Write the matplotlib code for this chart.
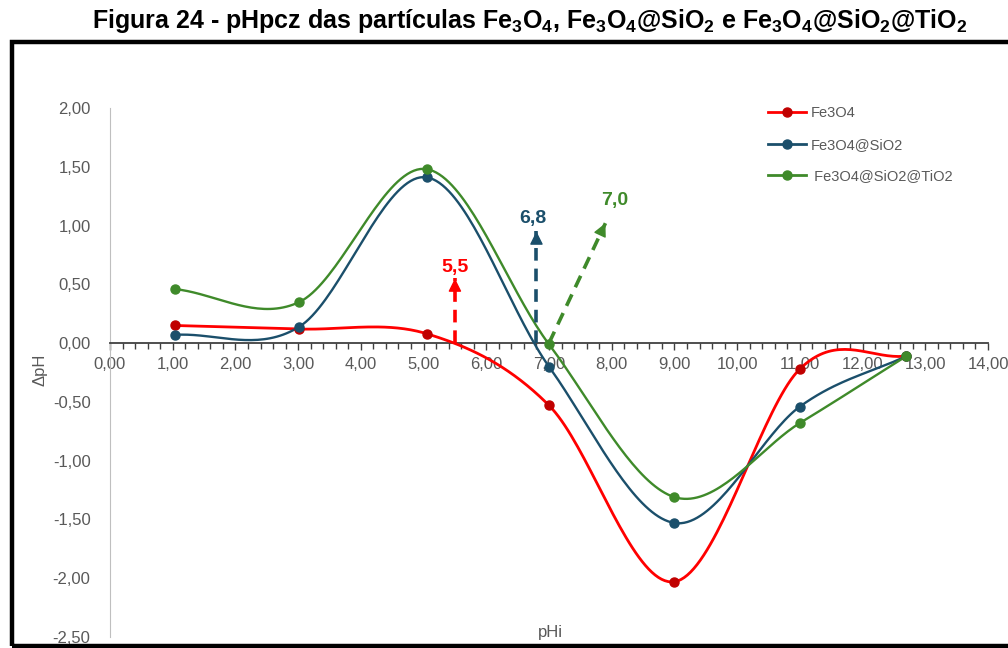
import numpy as np
import matplotlib
matplotlib.use('Agg')
import matplotlib.pyplot as plt
from matplotlib.ticker import MultipleLocator, FuncFormatter
from matplotlib.patches import Rectangle

plt.rcParams['font.family'] = ['Liberation Sans Narrow', 'Liberation Sans', 'DejaVu Sans']
plt.rcParams['mathtext.fontset'] = 'custom'
plt.rcParams['mathtext.rm'] = 'Liberation Sans:bold'
plt.rcParams['mathtext.default'] = 'rm'

# pH inicial x delta pH
phi_fe3o4 = [1.03, 3.02, 5.05, 7.0, 9.0, 11.0, 12.7]
dph_fe3o4 = [0.15, 0.12, 0.08, -0.53, -2.03, -0.22, -0.11]

phi_sio2 = [1.03, 3.02, 5.05, 7.0, 9.0, 11.0, 12.7]
dph_sio2 = [0.07, 0.14, 1.41, -0.20, -1.53, -0.54, -0.11]

phi_tio2 = [1.03, 3.02, 5.05, 7.0, 9.0, 11.0, 12.7]
dph_tio2 = [0.46, 0.35, 1.48, -0.01, -1.31, -0.68, -0.11]

# pHpcz de cada material (seta: inicio, fim)
pcz_labels = ['5,5', '6,8', '7,0']
pcz_start = [(5.5, 0.0), (6.8, 0.0), (7.0, 0.0)]
pcz_end = [(5.5, 0.55), (6.8, 0.95), (7.9, 1.02)]
pcz_text = [(5.5, 0.64), (6.75, 1.06), (8.05, 1.21)]

red = '#FF0000'
red_mk = '#C00000'
blue = '#1B4F6B'
green = '#3F8A2A'
grey = '#595959'


def smooth(x, y, n=40):
    # curva suavizada tipo Catmull-Rom passando pelos pontos
    p = np.column_stack([x, y]).astype(float)
    p = np.vstack([2 * p[0] - p[1], p, 2 * p[-1] - p[-2]])
    out = []
    for i in range(1, len(p) - 2):
        p0, p1, p2, p3 = p[i - 1], p[i], p[i + 1], p[i + 2]
        t = np.linspace(0, 1, n)[:, None]
        c = 0.5 * ((2 * p1) + (-p0 + p2) * t + (2 * p0 - 5 * p1 + 4 * p2 - p3) * t ** 2
                   + (-p0 + 3 * p1 - 3 * p2 + p3) * t ** 3)
        out.append(c if i == 1 else c[1:])
    c = np.vstack(out)
    return c[:, 0], c[:, 1]


fig = plt.figure(figsize=(10.08, 6.48), dpi=100)
ax = fig.add_axes([110 / 1008, 1 - 637 / 648, 878 / 1008, 529 / 648])

series = [
    (phi_fe3o4, dph_fe3o4, red, red_mk, 'Fe3O4'),
    (phi_sio2, dph_sio2, blue, blue, 'Fe3O4@SiO2'),
    (phi_tio2, dph_tio2, green, green, ' Fe3O4@SiO2@TiO2'),
]
for x, y, c, mc, lab in series:
    sx, sy = smooth(x, y)
    ax.plot(sx, sy, color=c, lw=2.0 if c == red else 1.7, zorder=3)
    ax.plot(x, y, 'o', color=mc, ms=6.5, zorder=4)
    ax.plot([], [], color=c, lw=2, marker='o', ms=6.5, mfc=mc, mec=mc, label=lab)

arrow_cols = [red, blue, green]
for lab, s, e, tp, c in zip(pcz_labels, pcz_start, pcz_end, pcz_text, arrow_cols):
    ax.plot([s[0], e[0]], [s[1], e[1]], color=c, lw=2.6, ls=(0, (3.5, 2.2)), zorder=5)
    d = np.array(e) - np.array(s)
    back = np.array(e) - d / np.hypot(d[0] / 14, d[1] / 4.5) * 0.004
    ax.annotate('', xy=e, xytext=back,
                arrowprops=dict(arrowstyle='-|>,head_length=0.8,head_width=0.4',
                                color=c, lw=1, shrinkA=0, shrinkB=0), zorder=5)
    ax.text(tp[0], tp[1], lab, color=c, fontsize=14, fontweight='bold',
            family=['Liberation Sans', 'DejaVu Sans'], ha='center', va='center', zorder=6)

ax.set_xlim(0, 14)
ax.set_ylim(-2.5, 2.0)
ax.xaxis.set_major_locator(MultipleLocator(1))
ax.xaxis.set_minor_locator(MultipleLocator(0.2))
ax.yaxis.set_major_locator(MultipleLocator(0.5))
fmt = FuncFormatter(lambda v, pos: f'{v:.2f}'.replace('.', ','))
ax.xaxis.set_major_formatter(fmt)
ax.yaxis.set_major_formatter(fmt)

ax.spines['top'].set_visible(False)
ax.spines['right'].set_visible(False)
ax.spines['bottom'].set_position(('data', 0))
ax.spines['bottom'].set_color('#404040')
ax.spines['bottom'].set_linewidth(1.3)
ax.spines['left'].set_color('#BFBFBF')
ax.spines['left'].set_linewidth(0.8)

ax.tick_params(axis='x', which='major', direction='out', length=5, width=1, color='#404040',
               labelsize=12, labelcolor=grey, pad=5)
ax.tick_params(axis='x', which='minor', direction='out', length=4, width=1, color='#404040')
ax.tick_params(axis='y', length=0, labelsize=12, labelcolor=grey, pad=14)

fig.text(40 / 1008, 1 - 370 / 648, 'ΔpH', rotation=90, color=grey, fontsize=12,
         ha='center', va='center')
fig.text(550 / 1008, 1 - 632 / 648, 'pHi', color=grey, fontsize=12, ha='center', va='center')

ax.legend(loc='upper left', bbox_to_anchor=(755 / 1008, 1 - 93 / 648),
          bbox_transform=fig.transFigure, frameon=False,
          labelcolor=grey, handlelength=2.6, handletextpad=0.3, labelspacing=1.2,
          prop={'family': ['Liberation Sans', 'DejaVu Sans'], 'size': 10.5})

fig.text(0.526, 1 - 21 / 648,
         'Figura 24 - pHpcz das partículas Fe$_3$O$_4$, Fe$_3$O$_4$@SiO$_2$ e '
         'Fe$_3$O$_4$@SiO$_2$@TiO$_2$',
         fontsize=18, fontweight='bold', ha='center', va='center',
         family=['Liberation Sans', 'DejaVu Sans'])

fig.patches.append(Rectangle((12 / 1008, 1 - 646 / 648), 1.2, (646 - 42) / 648,
                             transform=fig.transFigure, fill=False, ec='black', lw=3.2))

fig.savefig('out.png', dpi=100)
